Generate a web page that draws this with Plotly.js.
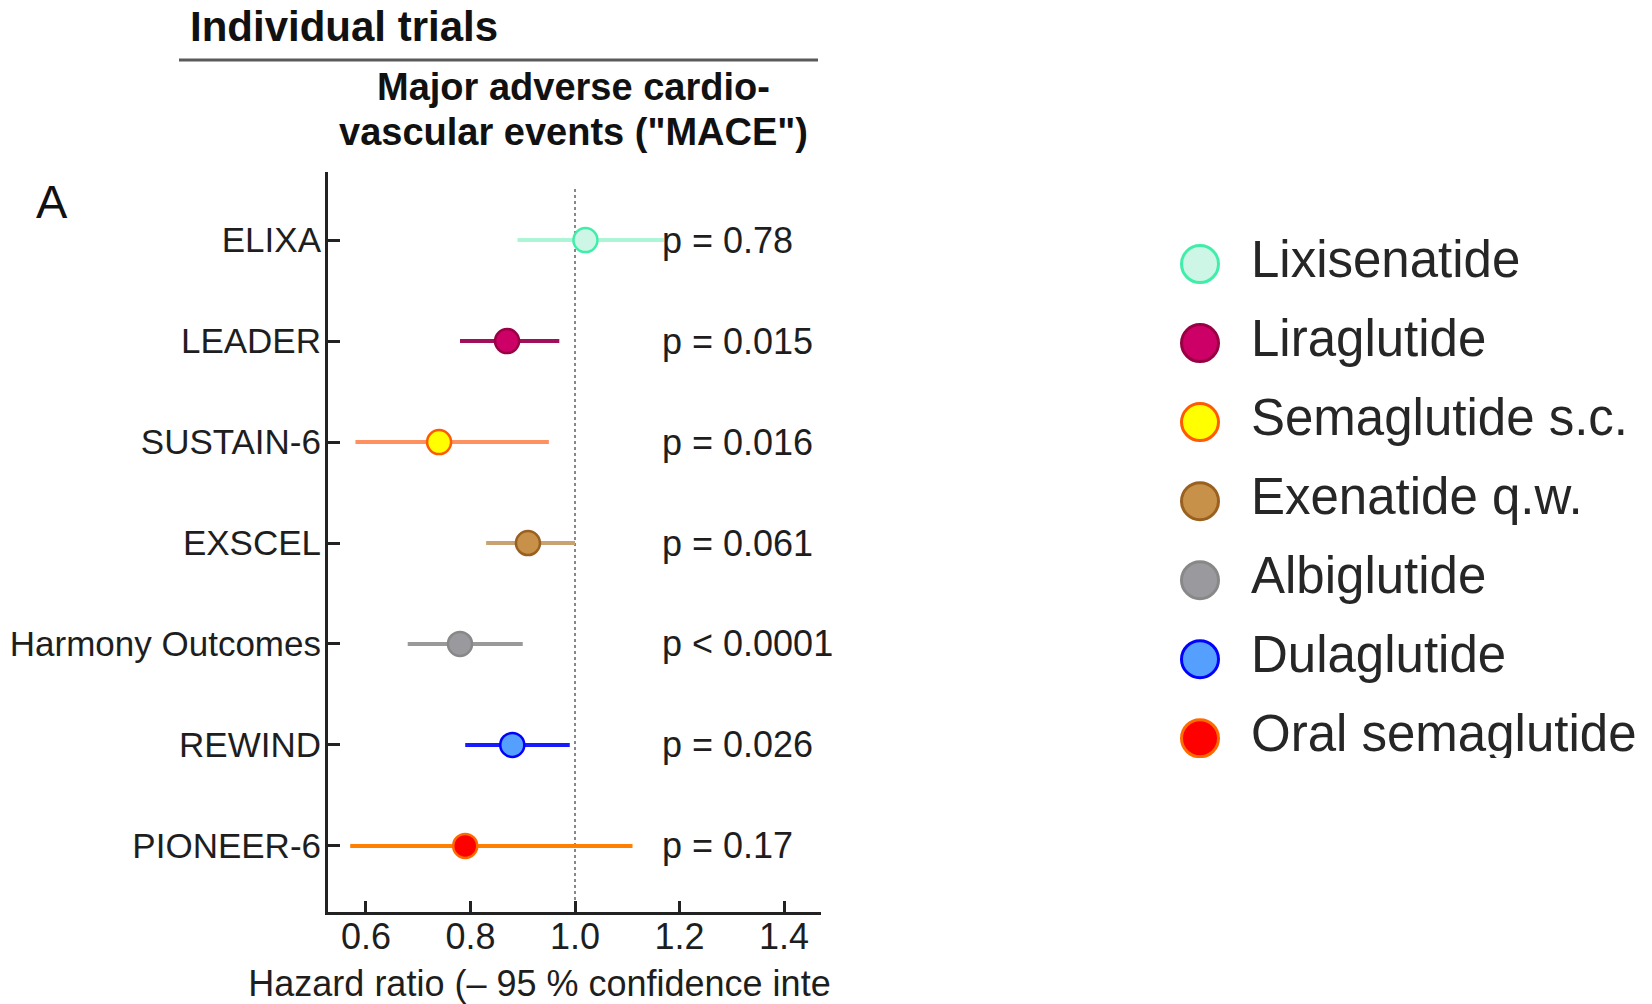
<!DOCTYPE html>
<html>
<head>
<meta charset="utf-8">
<script src="https://cdn.plot.ly/plotly-3.0.1.min.js"></script>
<style>
  html, body { margin: 0; padding: 0; background: #ffffff; }
  #chart { width: 1652px; height: 1004px; }
</style>
</head>
<body>
<div id="chart"></div>
<script>
// ---------- data ----------
const trials = ['ELIXA', 'LEADER', 'SUSTAIN-6', 'EXSCEL', 'Harmony Outcomes', 'REWIND', 'PIONEER-6'];
const drugs = ['Lixisenatide', 'Liraglutide', 'Semaglutide s.c.', 'Exenatide q.w.', 'Albiglutide', 'Dulaglutide', 'Oral semaglutide'];
const hazardRatio = [1.02, 0.87, 0.74, 0.91, 0.78, 0.88, 0.79];
const ciLower = [0.89, 0.78, 0.58, 0.83, 0.68, 0.79, 0.57];
const ciUpper = [1.17, 0.97, 0.95, 1.00, 0.90, 0.99, 1.11];
const pValues = ['p = 0.78', 'p = 0.015', 'p = 0.016', 'p = 0.061', 'p < 0.0001', 'p = 0.026', 'p = 0.17'];
const xTickVals = [0.6, 0.8, 1.0, 1.2, 1.4];
const xTickText = ['0.6', '0.8', '1.0', '1.2', '1.4'];
const referenceHR = 1.0;
const panelTitle = 'Individual trials';
const outcomeTitleLines = ['Major adverse cardio-', 'vascular events ("MACE")'];
const panelLetter = 'A';
const xAxisTitle = 'Hazard ratio (– 95 % confidence interval)';

// ---------- styles ----------
const fillColors = ['#cdf6e6', '#cc0066', '#ffff00', '#c8914a', '#9a9a9e', '#55a0ff', '#ff0000'];
const edgeColors = ['#40eeaa', '#990044', '#ff5a00', '#9a6020', '#888888', '#0000ff', '#ff6a00'];
const ciColors   = ['#aef5d8', '#a0105a', '#ff9060', '#c8a270', '#999999', '#1a1aff', '#ff8000'];

const sans = '"Liberation Sans", Arial, sans-serif';
const ink = '#1e1e1e';
const W = 1652, H = 1004;

const traces = trials.map((t, i) => ({
  type: 'scatter',
  mode: 'markers',
  x: [hazardRatio[i]],
  y: [t],
  xaxis: 'x', yaxis: 'y',
  error_x: {
    type: 'data', symmetric: false,
    array: [ciUpper[i] - hazardRatio[i]],
    arrayminus: [hazardRatio[i] - ciLower[i]],
    color: ciColors[i], thickness: 4, width: 0
  },
  marker: { size: 24, color: fillColors[i], line: { color: edgeColors[i], width: 2.5 } },
  showlegend: false, hoverinfo: 'skip'
}));

// custom legend (large symbols)
traces.push({
  type: 'scatter', mode: 'markers',
  x: drugs.map(() => 0), y: drugs,
  xaxis: 'x3', yaxis: 'y3',
  marker: { size: 37, color: fillColors, line: { color: edgeColors, width: 3 } },
  showlegend: false, hoverinfo: 'skip'
});
traces.push({
  type: 'scatter', mode: 'text',
  x: drugs.map(() => 1.04), y: drugs, text: drugs,
  textposition: 'middle right',
  textfont: { family: sans, size: 51, color: '#262626' },
  xaxis: 'x3', yaxis: 'y3',
  showlegend: false, hoverinfo: 'skip'
});

const annotations = trials.map((t, i) => ({
  xref: 'paper', yref: 'y', x: 660 / W, y: t,
  xanchor: 'left', yanchor: 'middle', showarrow: false,
  text: pValues[i], font: { family: sans, size: 36, color: ink }
}));
const subY = [86.5, 131.5];
outcomeTitleLines.forEach((line, k) => annotations.push({
  xref: 'paper', yref: 'paper', x: 573 / W, y: 1 - subY[k] / H,
  xanchor: 'center', yanchor: 'middle', showarrow: false,
  text: '<b>' + line + '</b>',
  font: { family: sans, size: 38, color: '#111111' }
}));
annotations.push({
  xref: 'paper', yref: 'paper', x: 52 / W, y: 1 - 201 / H,
  xanchor: 'center', yanchor: 'middle', showarrow: false,
  text: panelLetter, font: { family: sans, size: 47, color: '#111111' }
});

const layout = {
  width: W, height: H,
  margin: { l: 0, r: 0, t: 0, b: 0 },
  paper_bgcolor: '#ffffff', plot_bgcolor: 'rgba(0,0,0,0)',
  showlegend: false,
  title: {
    text: '<b>' + panelTitle + '</b>', xref: 'paper', yref: 'paper',
    x: 190 / W, xanchor: 'left', y: 1 - 26 / H, yanchor: 'middle',
    font: { family: sans, size: 42, color: '#111111' }
  },
  xaxis: {
    domain: [328 / W, 821 / W], range: [0.5275, 1.4706],
    tickvals: xTickVals, ticktext: xTickText,
    ticks: 'inside', ticklen: 11, tickwidth: 3, tickcolor: '#222222',
    showline: true, linewidth: 3, linecolor: '#222222',
    showgrid: false, zeroline: false, anchor: 'y',
    ticklabelstandoff: -9,
    tickfont: { family: sans, size: 36, color: ink },
    title: { text: xAxisTitle, standoff: 30,
             font: { family: sans, size: 36, color: ink } }
  },
  yaxis: {
    domain: [1 - 912 / H, 1 - 172 / H], type: 'category',
    categoryarray: trials, range: [6.654, -0.674],
    ticks: 'inside', ticklen: 12, tickwidth: 3, tickcolor: '#222222',
    showline: true, linewidth: 3, linecolor: '#222222',
    showgrid: false, zeroline: false, anchor: 'x',
    ticklabelstandoff: -3,
    tickfont: { family: sans, size: 35, color: ink }
  },
  xaxis3: { domain: [1150 / W, 1], range: [-1.02, 9.22], visible: false, anchor: 'y3' },
  yaxis3: { domain: [1 - 758 / H, 0.8], type: 'category', categoryarray: drugs,
            range: [6.25, -0.80], visible: false, anchor: 'x3' },
  shapes: [
    { type: 'line', xref: 'x', yref: 'y domain', x0: referenceHR, x1: referenceHR, y0: 0, y1: 0.98,
      line: { color: '#888888', width: 2, dash: 'dot' }, layer: 'below' },
    { type: 'line', xref: 'paper', yref: 'paper', x0: 179 / W, x1: 818 / W,
      y0: 1 - 60 / H, y1: 1 - 60 / H, line: { color: '#5a5a5a', width: 3 } }
  ],
  annotations: annotations
};

Plotly.newPlot('chart', traces, layout, { staticPlot: true, displayModeBar: false }).then(() => {
  // crop the left panel's texts at the panel edge (x = 832 px), as in the source figure
  const ns = 'http://www.w3.org/2000/svg';
  const firstSvg = document.querySelector('#chart svg.main-svg');
  const defs = document.createElementNS(ns, 'defs');
  const cp = document.createElementNS(ns, 'clipPath');
  cp.setAttribute('id', 'leftPanelClip');
  cp.setAttribute('clipPathUnits', 'userSpaceOnUse');
  const r = document.createElementNS(ns, 'rect');
  r.setAttribute('x', 0); r.setAttribute('y', 0);
  r.setAttribute('width', 832); r.setAttribute('height', H);
  cp.appendChild(r); defs.appendChild(cp); firstSvg.appendChild(defs);
  document.querySelectorAll('#chart .infolayer').forEach(g => {
    g.setAttribute('clip-path', 'url(#leftPanelClip)');
  });
});
</script>
</body>
</html>
